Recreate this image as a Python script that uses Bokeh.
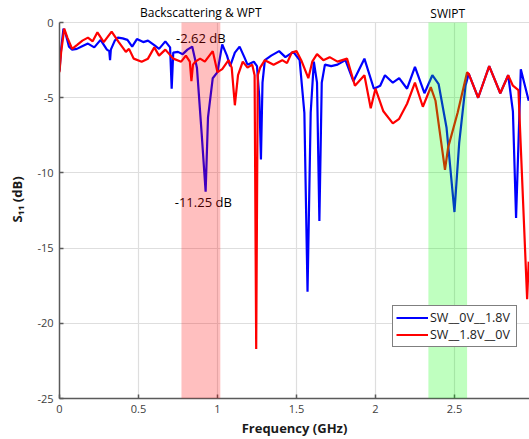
from bokeh.plotting import figure
from bokeh.models import (BoxAnnotation, Label, Legend, LegendItem, FixedTicker,
                          Range1d)
from bokeh.embed import file_html
from bokeh.resources import INLINE

# ---------------- data ----------------
freq_blue = [0.00, 0.01, 0.025, 0.04, 0.06, 0.08, 0.11, 0.14, 0.18, 0.22, 0.26, 0.30,
             0.315, 0.32, 0.325, 0.35, 0.37, 0.40, 0.43, 0.46, 0.49, 0.53, 0.56, 0.60,
             0.63, 0.67, 0.70, 0.71, 0.72, 0.75, 0.78, 0.81, 0.84, 0.87, 0.90, 0.925,
             0.94, 0.97, 1.00, 1.03, 1.06, 1.08, 1.11, 1.14, 1.17, 1.19, 1.21, 1.23,
             1.25, 1.265, 1.275, 1.285, 1.30, 1.34, 1.39, 1.43, 1.48, 1.52, 1.55, 1.57,
             1.59, 1.61, 1.63, 1.645, 1.66, 1.68, 1.72, 1.76, 1.81, 1.86, 1.93, 1.99,
             2.03, 2.06, 2.11, 2.15, 2.20, 2.25, 2.31, 2.36, 2.40, 2.45, 2.50, 2.53,
             2.57, 2.59, 2.65, 2.72, 2.79, 2.84, 2.87, 2.89, 2.92, 2.97]
s11_blue = [-3.2, -1.8, -0.4, -0.8, -1.6, -1.8, -1.75, -1.6, -1.4, -1.65, -1.15, -1.8,
            -1.9, -2.5, -1.8, -1.2, -1.0, -1.05, -1.15, -1.6, -1.1, -1.3, -1.2, -1.5,
            -1.75, -1.25, -1.65, -4.4, -2.0, -1.95, -2.1, -1.8, -1.6, -3.0, -7.4, -11.25,
            -6.3, -3.7, -3.3, -1.45, -2.2, -2.9, -2.0, -1.6, -2.3, -2.8, -2.7, -2.6,
            -2.9, -5.0, -9.1, -4.0, -2.5, -2.2, -1.9, -2.3, -1.95, -2.5, -6.0, -17.9,
            -6.0, -2.6, -4.0, -13.2, -4.0, -2.8, -2.9, -2.8, -2.5, -3.9, -2.4, -4.4,
            -4.2, -3.5, -4.0, -3.7, -4.4, -2.95, -4.7, -3.5, -4.1, -7.0, -12.6, -8.0,
            -4.2, -3.4, -5.0, -2.9, -4.7, -3.5, -5.9, -13.0, -3.1, -5.2]

freq_red = [0.00, 0.01, 0.03, 0.05, 0.08, 0.11, 0.145, 0.18, 0.21, 0.24, 0.28, 0.33,
            0.375, 0.42, 0.44, 0.47, 0.52, 0.56, 0.60, 0.63, 0.67, 0.72, 0.77, 0.80,
            0.825, 0.835, 0.845, 0.86, 0.89, 0.92, 0.97, 1.00, 1.03, 1.07, 1.09, 1.11,
            1.13, 1.16, 1.19, 1.22, 1.235, 1.245, 1.255, 1.27, 1.30, 1.355, 1.41, 1.44,
            1.47, 1.50, 1.53, 1.575, 1.60, 1.63, 1.67, 1.71, 1.76, 1.82, 1.87, 1.93,
            1.97, 2.00, 2.05, 2.11, 2.15, 2.20, 2.25, 2.30, 2.35, 2.38, 2.41, 2.44,
            2.46, 2.52, 2.58, 2.59, 2.65, 2.72, 2.79, 2.84, 2.87, 2.905, 2.96, 2.97]
s11_red = [-3.3, -2.0, -0.4, -1.0, -1.75, -1.5, -1.2, -1.0, -1.25, -0.65, -1.3, -0.6,
           -1.3, -1.95, -1.75, -2.4, -2.6, -2.4, -1.65, -2.2, -1.8, -2.4, -2.6, -2.2,
           -2.6, -3.9, -2.8, -2.6, -2.4, -2.6, -1.9, -3.3, -3.1, -2.5, -3.0, -5.5,
           -3.5, -2.6, -3.0, -2.8, -3.5, -21.7, -3.5, -3.0, -2.5, -2.8, -2.5, -2.7,
           -2.0, -1.9, -2.5, -3.7, -2.6, -2.1, -2.5, -2.3, -2.6, -2.4, -4.2, -3.5,
           -5.7, -4.4, -5.9, -6.7, -6.4, -5.4, -4.0, -5.6, -4.3, -5.2, -7.5, -9.8,
           -8.3, -6.0, -3.3, -3.4, -5.0, -2.9, -4.7, -3.5, -4.2, -4.5, -18.4, -15.9]

series_names = ["SW__0V__1.8V", "SW__1.8V__0V"]
x_ticks = [0, 0.5, 1, 1.5, 2, 2.5]
x_tick_labels = ["0", "0.5", "1", "1.5", "2", "2.5"]
y_ticks = [-25, -20, -15, -10, -5, 0]
y_tick_labels = ["-25", "-20", "-15", "-10", "-5", "0"]
y_limits = (-25, 0)

band_wpt = (0.772, 1.018)
band_swipt = (2.335, 2.58)
band_names = ["Backscattering & WPT", "SWIPT"]
marker_high = -2.62
marker_low = -11.25

FONT = "Open Sans"

# ---------------- figure ----------------
# the frame reaches a little above 0 dB so the band names can sit inside it;
# axis line and grid lines are bounded to the real limits
p = figure(width=529, height=439, output_backend="svg", toolbar_location=None,
           x_range=Range1d(0, 2.975), y_range=Range1d(-25, 1.4667),
           min_border_left=59, min_border_right=0, min_border_top=0,
           min_border_bottom=10)
p.outline_line_color = None
p.background_fill_color = "white"

for ax, ticks, labels in ((p.xaxis[0], x_ticks, x_tick_labels),
                          (p.yaxis[0], y_ticks, y_tick_labels)):
    ax.ticker = FixedTicker(ticks=ticks)
    ax.major_label_overrides = {t: l for t, l in zip(ticks, labels)}
    ax.minor_tick_line_color = None
    ax.major_tick_in = 4
    ax.major_tick_out = 0
    ax.axis_line_color = "#5a5a5a"
    ax.axis_line_width = 1.5
    ax.major_tick_line_color = "#5a5a5a"
    ax.major_tick_line_width = 1.5
    ax.major_label_text_font = FONT
    ax.major_label_text_font_size = "11px"
    ax.major_label_text_color = "#404040"
    ax.major_label_standoff = 6
    ax.axis_label_text_font = FONT
    ax.axis_label_text_font_size = "13px"
    ax.axis_label_text_font_style = "bold"
    ax.axis_label_text_color = "#1a1a1a"

p.yaxis.bounds = y_limits
p.xaxis.axis_label = "Frequency (GHz)"
p.xaxis.axis_label_standoff = 3
p.yaxis.axis_label = "S\u2081\u2081 (dB)"
p.yaxis.axis_label_standoff = 8

p.grid.grid_line_color = "#dedede"
p.grid.grid_line_width = 1.2
p.xgrid.cross_bounds = y_limits

r_blue = p.line(freq_blue, s11_blue, line_color="#0000ff", line_width=2.2)
r_red = p.line(freq_red, s11_red, line_color="#ff0000", line_width=2.2)

legend = Legend(items=[LegendItem(label=series_names[0], renderers=[r_blue]),
                       LegendItem(label=series_names[1], renderers=[r_red])],
                location=(333, 51))
legend.label_text_font = FONT
legend.label_text_font_size = "12.5px"
legend.label_text_color = "#1a1a1a"
legend.border_line_color = "black"
legend.border_line_width = 1.2
legend.background_fill_color = "white"
legend.background_fill_alpha = 1.0
legend.padding = 3
legend.spacing = 0
legend.margin = 0
legend.glyph_width = 32
legend.glyph_height = 15
legend.label_height = 15
legend.label_width = 83
legend.label_standoff = 2
p.add_layout(legend, "center")

# shaded bands, drawn on top of the curves and the legend
p.add_layout(BoxAnnotation(left=band_wpt[0], right=band_wpt[1],
                           bottom=y_limits[0], top=y_limits[1], fill_color="#ff0000",
                           fill_alpha=0.25, line_color=None, level="overlay"))
p.add_layout(BoxAnnotation(left=band_swipt[0], right=band_swipt[1],
                           bottom=y_limits[0], top=y_limits[1], fill_color="#00ff00",
                           fill_alpha=0.25, line_color=None, level="overlay"))

def add_text(x, y, text, size="13px"):
    p.add_layout(Label(x=x, y=y, text=text, text_font=FONT, text_font_size=size,
                       text_color="black", text_align="center",
                       text_baseline="middle"))

add_text(sum(band_wpt) / 2, 0.67, band_names[0], size="12px")
add_text(sum(band_swipt) / 2, 0.6, band_names[1], size="12px")
add_text(0.895, -1.0, f"{marker_high:.2f} dB")
add_text(0.91, -11.9, f"{marker_low:.2f} dB")

open("out.html", "w").write(file_html(p, INLINE))
